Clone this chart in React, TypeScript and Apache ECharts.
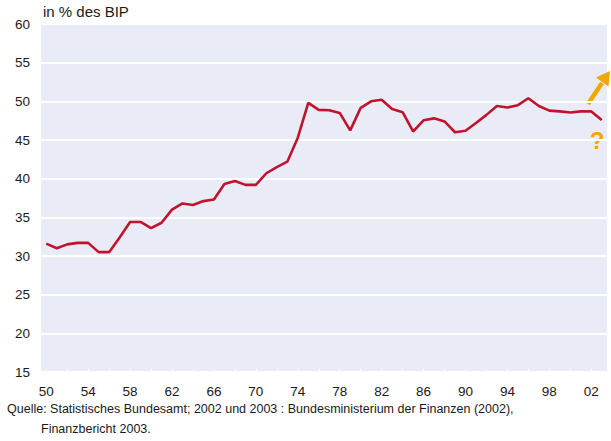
import React, { useEffect, useRef } from "react";
import * as echarts from "echarts";

const years: number[] = [
  1950, 1951, 1952, 1953, 1954, 1955, 1956, 1957, 1958, 1959,
  1960, 1961, 1962, 1963, 1964, 1965, 1966, 1967, 1968, 1969,
  1970, 1971, 1972, 1973, 1974, 1975, 1976, 1977, 1978, 1979,
  1980, 1981, 1982, 1983, 1984, 1985, 1986, 1987, 1988, 1989,
  1990, 1991, 1992, 1993, 1994, 1995, 1996, 1997, 1998, 1999,
  2000, 2001, 2002, 2003,
];

const staatsquote: number[] = [
  31.6, 31.0, 31.5, 31.7, 31.7, 30.5, 30.5, 32.4, 34.4, 34.4,
  33.6, 34.3, 36.0, 36.8, 36.6, 37.1, 37.3, 39.3, 39.7, 39.2,
  39.2, 40.7, 41.5, 42.2, 45.3, 49.8, 48.9, 48.85, 48.5, 46.25,
  49.15, 50.0, 50.2, 49.0, 48.6, 46.1, 47.55, 47.8, 47.4, 46.0,
  46.2, 47.2, 48.25, 49.4, 49.2, 49.5, 50.4, 49.4, 48.8, 48.7,
  48.55, 48.7, 48.7, 47.6,
];

const yTicks = { min: 15, max: 60, interval: 5 };
const unitLabel = "in % des BIP";
const sourceLine1 =
  "Quelle: Statistisches Bundesamt; 2002 und 2003 : Bundesministerium der Finanzen (2002),";
const sourceLine2 = "Finanzbericht 2003.";

const FONT = "Liberation Sans, Arial, sans-serif";
const ORANGE = "#f0a800";

export default function App() {
  const ref = useRef<HTMLDivElement>(null);
  useEffect(() => {
    if (!ref.current) return;
    const chart = echarts.init(ref.current, undefined, { renderer: "svg" });
    chart.setOption({
      animation: false,
      textStyle: { fontFamily: FONT },
      grid: {
        left: 41,
        right: 4,
        top: 24,
        bottom: 69,
        show: true,
        backgroundColor: "#e9ebf6",
        borderWidth: 0,
      },
      xAxis: {
        type: "category",
        data: years.map(String),
        boundaryGap: true,
        axisLine: { show: false },
        axisTick: {
          show: true,
          inside: true,
          alignWithLabel: true,
          interval: 1,
          length: 3,
          lineStyle: { color: "#ffffff", width: 1 },
        },
        axisLabel: {
          interval: 3,
          margin: 12,
          fontSize: 13.5,
          color: "#1a1a1a",
          fontFamily: FONT,
          formatter: (v: string) => v.slice(2),
        },
        splitLine: { show: false },
      },
      yAxis: {
        type: "value",
        min: yTicks.min,
        max: yTicks.max,
        interval: yTicks.interval,
        axisLine: { show: false },
        axisTick: { show: false },
        axisLabel: {
          fontSize: 13.5,
          color: "#1a1a1a",
          margin: 11,
          fontFamily: FONT,
        },
        splitLine: { show: true, lineStyle: { color: "#ffffff", width: 2 } },
      },
      series: [
        {
          type: "line",
          data: staatsquote,
          symbol: "none",
          lineStyle: { color: "#c0132d", width: 2.6 },
        },
      ],
      graphic: [
        {
          type: "text",
          left: 43,
          top: 4,
          style: {
            text: unitLabel,
            fontSize: 15,
            fill: "#1a1a1a",
            fontFamily: FONT,
          },
        },
        {
          type: "text",
          left: 7,
          top: 402,
          style: {
            text: sourceLine1,
            fontSize: 12.5,
            fill: "#1a1a1a",
            fontFamily: FONT,
          },
        },
        {
          type: "text",
          left: 41,
          top: 422,
          style: {
            text: sourceLine2,
            fontSize: 12.5,
            fill: "#1a1a1a",
            fontFamily: FONT,
          },
        },
        {
          type: "line",
          shape: { x1: 588, y1: 104, x2: 602, y2: 83 },
          style: { stroke: ORANGE, lineWidth: 4.5 },
        },
        {
          type: "polygon",
          shape: {
            points: [
              [610, 71],
              [608.5, 86.5],
              [596, 77.5],
            ],
          },
          style: { fill: ORANGE },
        },
        {
          type: "text",
          x: 597,
          y: 140,
          style: {
            text: "?",
            fontSize: 24,
            fontWeight: "bold",
            fill: ORANGE,
            align: "center",
            verticalAlign: "middle",
            fontFamily: FONT,
          },
        },
      ],
    });
    return () => chart.dispose();
  }, []);
  return (
    <div
      ref={ref}
      style={{ position: "absolute", left: 0, top: 0, width: 611, height: 441 }}
    />
  );
}
